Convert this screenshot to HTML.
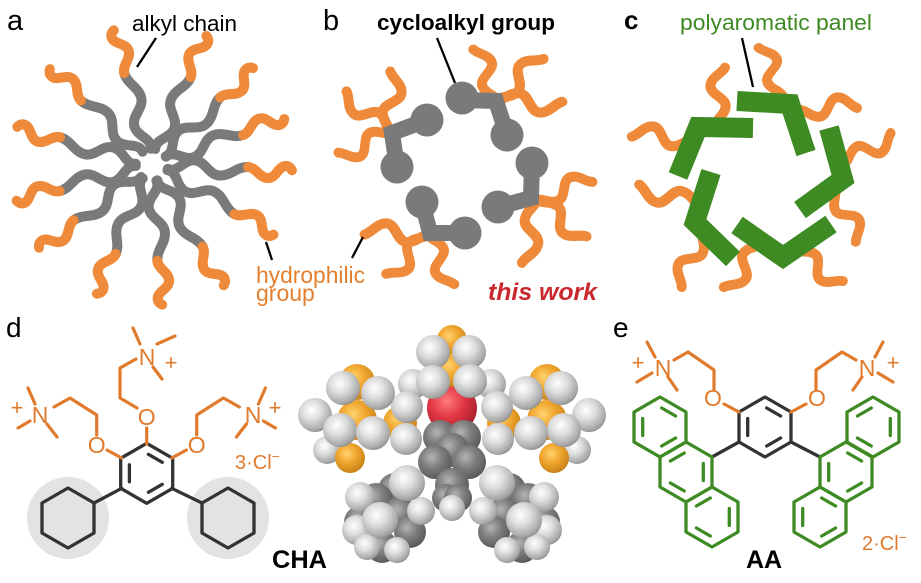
<!DOCTYPE html>
<html><head><meta charset="utf-8"><style>
html,body{margin:0;padding:0;background:#fff;}
svg{display:block;font-family:"Liberation Sans",Arial,sans-serif;}
.ch{fill:none;stroke-width:10;stroke-linecap:round;}
.h{fill:url(#gH)} .o{fill:url(#gO)} .c{fill:url(#gC)} .r{fill:url(#gR)}
.ob{stroke:#e07b2e;stroke-width:3.2;fill:none;stroke-linecap:round;stroke-linejoin:round}
.db{stroke:#333;stroke-width:3.3;fill:none;stroke-linecap:round;stroke-linejoin:round}
.gb{stroke:#3e8a23;stroke-width:3.3;fill:none;stroke-linecap:round;stroke-linejoin:round}
.ot{fill:#e07b2e;font-size:23px;text-anchor:middle}
.pl{fill:#e07b2e;font-size:22px;text-anchor:middle}
</style></head><body>
<svg width="921" height="583" viewBox="0 0 921 583" xmlns="http://www.w3.org/2000/svg">
<defs>
<radialGradient id="gH" cx="0.4" cy="0.36" r="0.7"><stop offset="0" stop-color="#ffffff"/><stop offset="0.4" stop-color="#dedede"/><stop offset="0.85" stop-color="#a6a6a6"/><stop offset="1" stop-color="#808080"/></radialGradient>
<radialGradient id="gO" cx="0.4" cy="0.36" r="0.7"><stop offset="0" stop-color="#ffd36e"/><stop offset="0.45" stop-color="#f0a62e"/><stop offset="1" stop-color="#c07e14"/></radialGradient>
<radialGradient id="gC" cx="0.4" cy="0.36" r="0.7"><stop offset="0" stop-color="#b4b4b4"/><stop offset="0.45" stop-color="#7e7e7e"/><stop offset="1" stop-color="#555"/></radialGradient>
<radialGradient id="gR" cx="0.4" cy="0.36" r="0.7"><stop offset="0" stop-color="#ff7a7a"/><stop offset="0.5" stop-color="#e03442"/><stop offset="1" stop-color="#a02030"/></radialGradient>
<g id="chainA">
<path class="ch" stroke="#7a7a7a" d="M16,3 C26,7 31,-7 42,-7 C53,-7 57,7 68,7 C79,7 85,-3 96,-3"/>
<path class="ch" stroke="#ee8a3a" d="M96,-3 C104,-3 108,7 116,7 C125,7 126,-6 134,-6 C137,-6 139,-4 140,-2"/>
</g>
<path id="w" class="ch" stroke="#ee8a3a" d="M0,0 C7,-1 11,-9 20,-9 C29,-9 31,8 40,8 C49,8 53,-2 60,-5"/>
<g id="hexA">
<polygon points="0,-30 26,-15 26,15 0,30 -26,15 -26,-15"/>
<path d="M1.7,-19 L15.6,-11 M15.6,11 L1.7,19 M-17.3,-8.5 L-17.3,8.5"/>
</g>
<polygon id="hex0" points="0,-30 26,-15 26,15 0,30 -26,15 -26,-15"/>
</defs>

<!-- Panel labels -->
<text x="7" y="30" font-size="29">a</text>
<text x="323" y="30" font-size="29">b</text>
<text x="624" y="29" font-size="26" font-weight="bold">c</text>
<text x="6" y="337" font-size="28">d</text>
<text x="613" y="337" font-size="28">e</text>

<!-- Panel a -->
<g transform="translate(152,165)">
<use href="#chainA" transform="rotate(-105)"/>
<use href="#chainA" transform="rotate(-68) scale(1,-1)"/>
<use href="#chainA" transform="rotate(-43)"/>
<use href="#chainA" transform="rotate(-20) scale(1,-1)"/>
<use href="#chainA" transform="rotate(3)"/>
<use href="#chainA" transform="rotate(29) scale(1,-1)"/>
<use href="#chainA" transform="rotate(60)"/>
<use href="#chainA" transform="rotate(85) scale(1,-1)"/>
<use href="#chainA" transform="rotate(114)"/>
<use href="#chainA" transform="rotate(143) scale(1,-1)"/>
<use href="#chainA" transform="rotate(166)"/>
<use href="#chainA" transform="rotate(195) scale(1,-1)"/>
<use href="#chainA" transform="rotate(224)"/>
</g>
<text x="132" y="31" font-size="22" textLength="105" lengthAdjust="spacingAndGlyphs">alkyl chain</text>
<line x1="156" y1="38" x2="137" y2="67" stroke="#000" stroke-width="2.3"/>
<line x1="266" y1="242" x2="272" y2="260" stroke="#000" stroke-width="2.3"/>
<text x="256" y="283" font-size="23" fill="#e2802f" textLength="109" lengthAdjust="spacingAndGlyphs">hydrophilic</text>
<text x="256" y="301" font-size="23" fill="#e2802f">group</text>

<!-- Panel b -->
<g>
<use href="#w" transform="translate(497,100) rotate(-110) scale(.93,1)"/>
<use href="#w" transform="translate(497,100) rotate(-46) scale(1.03,-1)"/>
<use href="#w" transform="translate(497,100) rotate(6) scale(1.08,1)"/>
<use href="#w" transform="translate(537,200) rotate(-23) scale(.97,-1)"/>
<use href="#w" transform="translate(537,200) rotate(41) scale(1.02,1)"/>
<use href="#w" transform="translate(537,200) rotate(99) scale(1.07,-1)"/>
<use href="#w" transform="translate(428,235) rotate(185) scale(1.05,1)"/>
<use href="#w" transform="translate(428,235) rotate(132) scale(.95,-1)"/>
<use href="#w" transform="translate(428,235) rotate(67) scale(.93,1)"/>
<use href="#w" transform="translate(390,133) rotate(-141) scale(1,-1)"/>
<use href="#w" transform="translate(390,133) rotate(-85) scale(1.02,1)"/>
<use href="#w" transform="translate(390,133) rotate(154) scale(.92,-1)"/>
</g>
<g fill="none" stroke="#7a7a7a" stroke-width="16" stroke-linejoin="miter">
<polyline points="462,100 496,101 507,135"/>
<polyline points="532,163 531,198 498,207"/>
<polyline points="465,233 430,233 422,202"/>
<polyline points="397,167 392,133 427,120"/>
</g>
<g fill="#7a7a7a">
<circle cx="462" cy="98" r="16.5"/><circle cx="507" cy="135" r="16.5"/>
<circle cx="532" cy="163" r="16.5"/><circle cx="498" cy="207" r="16.5"/>
<circle cx="465" cy="233" r="16.5"/><circle cx="422" cy="202" r="16.5"/>
<circle cx="397" cy="167" r="16.5"/><circle cx="427" cy="120" r="16.5"/>
</g>
<text x="377" y="30" font-size="22" font-weight="bold" textLength="178" lengthAdjust="spacingAndGlyphs">cycloalkyl group</text>
<line x1="437" y1="38" x2="455" y2="83" stroke="#000" stroke-width="2.3"/>
<line x1="363" y1="237" x2="352" y2="258" stroke="#000" stroke-width="2.3"/>
<text x="488" y="300" font-size="24" font-weight="bold" font-style="italic" fill="#c8282e" textLength="109" lengthAdjust="spacingAndGlyphs">this work</text>

<!-- Panel c -->
<g>
<use href="#w" transform="translate(782,95) rotate(-111) scale(.88,1)"/>
<use href="#w" transform="translate(800,110) rotate(-7) scale(.95,-1)"/>
<use href="#w" transform="translate(845,163) rotate(-28) scale(.91,1)"/>
<use href="#w" transform="translate(835,190) rotate(63) scale(.93,-1)"/>
<use href="#w" transform="translate(795,250) rotate(38) scale(.95,1)"/>
<use href="#w" transform="translate(762,243) rotate(126) scale(.97,-1)"/>
<use href="#w" transform="translate(703,232) rotate(116) scale(.98,1)"/>
<use href="#w" transform="translate(700,205) rotate(194) scale(1.06,-1)"/>
<use href="#w" transform="translate(692,140) rotate(188) scale(1,1)"/>
<use href="#w" transform="translate(715,125) rotate(-85) scale(.97,-1)"/>
</g>
<g fill="none" stroke="#3e8a23" stroke-width="20" stroke-linejoin="miter" stroke-miterlimit="6">
<polyline points="737,101 790,104 806,153"/>
<polyline points="829,128 843,179 800,210"/>
<polyline points="737,225 783,257 831,224"/>
<polyline points="711,172 695,222 733,259"/>
<polyline points="753,128 698,127 678,176"/>
</g>
<text x="680" y="30" font-size="22" fill="#3e8a23" textLength="192" lengthAdjust="spacingAndGlyphs">polyaromatic panel</text>
<line x1="742" y1="38" x2="753" y2="87" stroke="#000" stroke-width="2.3"/>

<!-- Panel d: structure -->
<circle cx="68" cy="518" r="41" fill="#e3e3e3"/>
<circle cx="228" cy="518" r="41" fill="#e3e3e3"/>
<use href="#hexA" class="db" transform="translate(146.7,473.3)"/>
<use href="#hex0" class="db" transform="translate(68,518)"/>
<use href="#hex0" class="db" transform="translate(228,518)"/>
<path class="db" d="M121.7,488.3 L94,503 M171.7,488.3 L202,503"/>
<path class="ob" d="M146.7,444 L146.7,428 M137,408 L120,398 L120,368 L136,359 M140,344 L133,328 M157,344 L175,336 M153,367 L162,379"/>
<path class="ob" d="M121.7,458 L107,450 M96.7,435 L96.7,415 L70,398 L54,407 M35,404 L28,388 M30,421 L18,428 M47,424 L57,437"/>
<path class="ob" d="M171.7,458 L186.4,450 M196.7,435 L196.7,415 L223.4,398 L239.4,407 M258.4,404 L265.4,388 M263.4,421 L275.4,428 M246.4,424 L236.4,437"/>
<text class="ot" x="146.7" y="425">O</text>
<text class="ot" x="96.7" y="453">O</text>
<text class="ot" x="196.7" y="453">O</text>
<text class="ot" x="147" y="365">N</text>
<text class="ot" x="40" y="423">N</text>
<text class="ot" x="253" y="423">N</text>
<text class="pl" x="171" y="370">+</text>
<text class="pl" x="17" y="415">+</text>
<text class="pl" x="275" y="415">+</text>
<text x="235" y="469" font-size="20" fill="#e07b2e">3·Cl<tspan font-size="14" dy="-8">−</tspan></text>
<text x="272" y="568" font-size="25" font-weight="bold" textLength="55" lengthAdjust="spacingAndGlyphs">CHA</text>

<!-- Space-filling model -->
<g>
<circle class="h" cx="413" cy="384" r="15"/><circle class="h" cx="491" cy="384" r="15"/>
<circle class="h" cx="315" cy="415" r="17"/><circle class="h" cx="327" cy="450" r="14"/>
<circle class="h" cx="589" cy="415" r="17"/><circle class="h" cx="577" cy="450" r="14"/>
<circle class="r" cx="452" cy="408" r="25"/>
<circle class="c" cx="440" cy="437" r="17"/><circle class="c" cx="464" cy="437" r="17"/>
<circle class="c" cx="452" cy="450" r="17"/>
<circle class="c" cx="435" cy="462" r="17"/><circle class="c" cx="469" cy="462" r="17"/>
<circle class="c" cx="452" cy="485" r="17"/>
<circle class="c" cx="446" cy="498" r="14"/><circle class="c" cx="458" cy="498" r="14"/>
<circle class="c" cx="395" cy="490" r="17"/><circle class="c" cx="376" cy="500" r="17"/>
<circle class="c" cx="400" cy="514" r="17"/><circle class="c" cx="410" cy="532" r="16"/>
<circle class="c" cx="382" cy="547" r="16"/><circle class="c" cx="360" cy="522" r="16"/>
<circle class="c" cx="509" cy="490" r="17"/><circle class="c" cx="528" cy="500" r="17"/>
<circle class="c" cx="504" cy="514" r="17"/><circle class="c" cx="494" cy="532" r="16"/>
<circle class="c" cx="522" cy="547" r="16"/><circle class="c" cx="544" cy="522" r="16"/>
<circle class="h" cx="360" cy="497" r="15"/><circle class="h" cx="421" cy="511" r="14"/>
<circle class="h" cx="357" cy="530" r="15"/><circle class="h" cx="367" cy="547" r="13"/>
<circle class="h" cx="397" cy="550" r="13"/><circle class="h" cx="380" cy="520" r="18"/>
<circle class="h" cx="407" cy="483" r="18"/>
<circle class="h" cx="544" cy="497" r="15"/><circle class="h" cx="483" cy="511" r="14"/>
<circle class="h" cx="547" cy="530" r="15"/><circle class="h" cx="537" cy="547" r="13"/>
<circle class="h" cx="507" cy="550" r="13"/><circle class="h" cx="524" cy="520" r="18"/>
<circle class="h" cx="497" cy="483" r="18"/>
<circle class="h" cx="452" cy="508" r="13"/>
<circle class="o" cx="452" cy="340" r="15"/><circle class="o" cx="452" cy="370" r="17"/>
<circle class="h" cx="433" cy="352" r="17"/><circle class="h" cx="469" cy="352" r="17"/>
<circle class="h" cx="433" cy="382" r="17"/><circle class="h" cx="470" cy="381" r="17"/>
<circle class="o" cx="400" cy="423" r="17"/>
<circle class="h" cx="407" cy="407" r="16"/><circle class="h" cx="406" cy="439" r="16"/>
<circle class="o" cx="357" cy="382" r="18"/><circle class="o" cx="357" cy="420" r="20"/>
<circle class="o" cx="350" cy="458" r="15"/>
<circle class="h" cx="343" cy="388" r="17"/><circle class="h" cx="378" cy="393" r="17"/>
<circle class="h" cx="340" cy="430" r="17"/><circle class="h" cx="373" cy="433" r="17"/>
<circle class="o" cx="504" cy="423" r="17"/>
<circle class="h" cx="497" cy="407" r="16"/><circle class="h" cx="498" cy="439" r="16"/>
<circle class="o" cx="547" cy="382" r="18"/><circle class="o" cx="547" cy="420" r="20"/>
<circle class="o" cx="554" cy="458" r="15"/>
<circle class="h" cx="561" cy="388" r="17"/><circle class="h" cx="526" cy="393" r="17"/>
<circle class="h" cx="564" cy="430" r="17"/><circle class="h" cx="531" cy="433" r="17"/>
</g>

<!-- Panel e -->
<use href="#hexA" class="db" transform="translate(765,427)"/>
<path class="db" d="M739,442 L712,457 M791,442 L820,457"/>
<use href="#hexA" class="gb" transform="translate(660,427)"/>
<use href="#hexA" class="gb" transform="translate(686,472) scale(-1,1)"/>
<use href="#hexA" class="gb" transform="translate(712,517) scale(-1,1)"/>
<use href="#hexA" class="gb" transform="translate(873,427) scale(-1,1)"/>
<use href="#hexA" class="gb" transform="translate(846,472)"/>
<use href="#hexA" class="gb" transform="translate(820,517)"/>
<path class="ob" d="M739,412 L724,404 M714,389 L714,370 L688,352 L674,360 M655,357 L647,342 M652,373 L637,382 M668,377 L677,390"/>
<path class="ob" d="M791,412 L806,404 M816,389 L816,370 L842,352 L856,360 M875,357 L883,342 M878,373 L893,382 M862,377 L853,390"/>
<text class="ot" x="713" y="406">O</text>
<text class="ot" x="817" y="406">O</text>
<text class="ot" x="663" y="376">N</text>
<text class="ot" x="867" y="376">N</text>
<text class="pl" x="638" y="370">+</text>
<text class="pl" x="893" y="370">+</text>
<text x="862" y="550" font-size="20" fill="#e07b2e">2·Cl<tspan font-size="14" dy="-8">−</tspan></text>
<text x="764" y="568" font-size="25" font-weight="bold" text-anchor="middle">AA</text>
</svg>
</body></html>
